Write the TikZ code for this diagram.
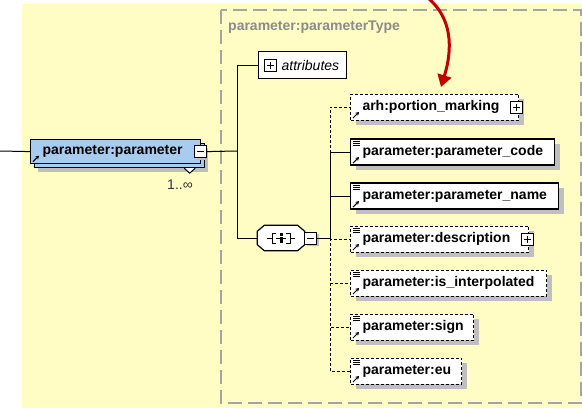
\documentclass[tikz,border=0pt]{standalone}
\usepackage{fontspec}
\setmainfont{Liberation Sans}
\usetikzlibrary{positioning, arrows.meta, shadows}

\definecolor{xsdbg}{HTML}{FFFCC4}
\definecolor{xsdblue}{HTML}{A8CBF0}
\definecolor{xsdframe}{HTML}{A4A4A4}
\definecolor{xsdred}{HTML}{C00000}

\begin{document}
\begin{tikzpicture}[
        x=1pt, y=-1pt,
        font=\fontsize{14}{16}\selectfont\bfseries,
        elem/.style={rectangle, draw, line width=1.2pt, fill=white, anchor=west,
            minimum height=26pt, inner xsep=12pt, inner ysep=0pt, text width=#1, align=left,
            drop shadow={shadow xshift=5pt, shadow yshift=-5pt, fill=black!25, opacity=1}},
        optional/.style={dash pattern=on 3pt off 2pt, line width=1pt},
        pmbox/.style={rectangle, draw, fill=white, minimum size=12pt, inner sep=0pt, line width=0.9pt},
        minusbox/.style={pmbox, path picture={
            \draw[line width=0.9pt] ([xshift=2.5pt]path picture bounding box.west) -- ([xshift=-2.5pt]path picture bounding box.east);}},
        plusbox/.style={pmbox, path picture={
            \draw[line width=0.9pt] ([xshift=2.5pt]path picture bounding box.west) -- ([xshift=-2.5pt]path picture bounding box.east)
                ([yshift=-2.5pt]path picture bounding box.north) -- ([yshift=2.5pt]path picture bounding box.south);}},
        link/.style={line width=1pt},
        optlink/.style={line width=1pt, dash pattern=on 3pt off 2pt}
    ]
    \useasboundingbox (0,0) rectangle (582,408);
    \fill[white] (0,0) rectangle (582,408);
    \fill[xsdbg] (22,4) rectangle (582,408);

    % complex type frame
    \draw[xsdframe, line width=1.6pt, dash pattern=on 14pt off 6pt] (221,10) rectangle (581,403);
    \node[text=xsdframe!85!black, anchor=west, inner sep=0pt] (typename) at (228,27) {parameter:parameterType};

    % the element itself
    \node[rectangle, draw, line width=1.2pt, fill=xsdblue, anchor=north west,
        minimum width=170pt, minimum height=24pt, inner xsep=12pt, inner ysep=0pt, text width=146pt, align=left,
        general shadow={shadow xshift=7pt, shadow yshift=-8pt, fill=black!25},
        general shadow={shadow xshift=4pt, shadow yshift=-4pt, fill=xsdblue, draw=black, line width=1.2pt}]
        (param) at (30,139) {parameter:parameter};
    \node[minusbox, drop shadow={shadow xshift=2pt, shadow yshift=-2pt, fill=black!25, opacity=1}] (parammin) at ([xshift=-1pt]param.east) {};
    \draw[fill=white, line width=1pt] ([shift={(-17,4)}]param.south east) -- ([shift={(-11.5,9)}]param.south east) -- ([shift={(-6,4)}]param.south east);
    \node[font=\fontsize{14}{15}\selectfont\mdseries, text=black!80] (mult) at (180,185) {1..∞};

    \coordinate (in) at (0,151);
    \draw[link] (in) -- (param.west);
    \coordinate (j1) at (237,151);
    \draw[link] (parammin.east) -- (j1);

    % attributes and sequence
    \node[rectangle, draw, line width=1.2pt, fill=white, anchor=north west, minimum height=27pt,
        inner xsep=7pt, font=\fontsize{14}{16}\selectfont\mdseries\itshape] (attr) at (258,51) {\hspace*{16pt}attributes};
    \node[plusbox] (attrplus) at ([xshift=12pt]attr.west) {};
    \draw[link] (j1) |- (attr.west);

    \node[minimum width=47pt, minimum height=25pt, inner sep=0pt] (seq) at (281,238) {};
    \fill[black!25, shift={(5,5)}] ([xshift=7pt]seq.north west) -- ([xshift=-7pt]seq.north east) -- ([yshift=-6pt]seq.north east)
        -- ([yshift=6pt]seq.south east) -- ([xshift=-7pt]seq.south east) -- ([xshift=7pt]seq.south west)
        -- ([yshift=6pt]seq.south west) -- ([yshift=-6pt]seq.north west) -- cycle;
    \draw[line width=1.2pt, fill=white] ([xshift=7pt]seq.north west) -- ([xshift=-7pt]seq.north east) -- ([yshift=-6pt]seq.north east)
        -- ([yshift=6pt]seq.south east) -- ([xshift=-7pt]seq.south east) -- ([xshift=7pt]seq.south west)
        -- ([yshift=6pt]seq.south west) -- ([yshift=-6pt]seq.north west) -- cycle;
    \draw[link] (j1) |- (seq.west);
    \draw[line width=1pt] ([shift={(-14,0)}]seq.center) -- ([shift={(-9,0)}]seq.center)
        ([shift={(-5,-5)}]seq.center) -- ([shift={(-9,-5)}]seq.center) -- ([shift={(-9,5)}]seq.center) -- ([shift={(-5,5)}]seq.center)
        ([shift={(5,-5)}]seq.center) -- ([shift={(9,-5)}]seq.center) -- ([shift={(9,5)}]seq.center) -- ([shift={(5,5)}]seq.center)
        ([shift={(9,0)}]seq.center) -- ([shift={(14,0)}]seq.center)
        ([shift={(-5,0)}]seq.center) -- ([shift={(5,0)}]seq.center);
    \foreach \dy in {-5,-1.5,2} {
        \fill ([shift={(-1.5,\dy)}]seq.center) rectangle ([shift={(1.5,\dy+3)}]seq.center);
    }
    \node[minusbox, drop shadow={shadow xshift=2pt, shadow yshift=-2pt, fill=black!25, opacity=1}] (seqmin) at ([xshift=6pt]seq.east) {};
    \coordinate (j2) at (330,238);
    \draw[link] (seqmin.east) -- (j2);

    % children of the sequence
    \node[elem=144pt, optional] (portion) at (350,107) {arh:portion\_marking};
    \node[plusbox] (portionplus) at ([xshift=-3pt]portion.east) {};
    \node[elem=180pt] (code) at (350,152) {parameter:parameter\_code};
    \node[elem=184pt] (name) at (350,196) {parameter:parameter\_name};
    \node[elem=154pt, optional] (desc) at (350,239) {parameter:description};
    \node[plusbox] (descplus) at ([xshift=-2pt]desc.east) {};
    \node[elem=172pt, optional] (interp) at (350,283) {parameter:is\_interpolated};
    \node[elem=99pt, optional] (sign) at (350,327) {parameter:sign};
    \node[elem=87pt, optional] (eu) at (350,371) {parameter:eu};

    \draw[link] (j2) |- (code.west);
    \draw[link] (j2) |- (name.west);
    \foreach \n in {portion, desc, interp, sign, eu} {
        \draw[optlink] (j2) |- (\n.west);
    }

    % reference arrows and simple-type marks
    \foreach \n in {param, portion, code, name, desc, interp, sign, eu} {
        \draw[line width=1pt, -{Stealth[length=3.5pt, width=4pt]}] ([shift={(3,-2.5)}]\n.south west) -- ([shift={(9,-8.5)}]\n.south west);
    }
    \foreach \n in {code, name, desc, interp, sign, eu} {
        \foreach \k in {3,5,7} {
            \draw[line width=0.8pt] ([shift={(3,\k)}]\n.north west) -- ([shift={(10,\k)}]\n.north west);
        }
    }

    % pointer
    \coordinate (tail) at (428,-2);
    \coordinate (tip) at (441,87);
    \draw[xsdred, line width=3pt, -{Triangle[length=12pt, width=14pt]}] (tail) .. controls (452,18) and (453,48) .. (tip);
\end{tikzpicture}
\end{document}
